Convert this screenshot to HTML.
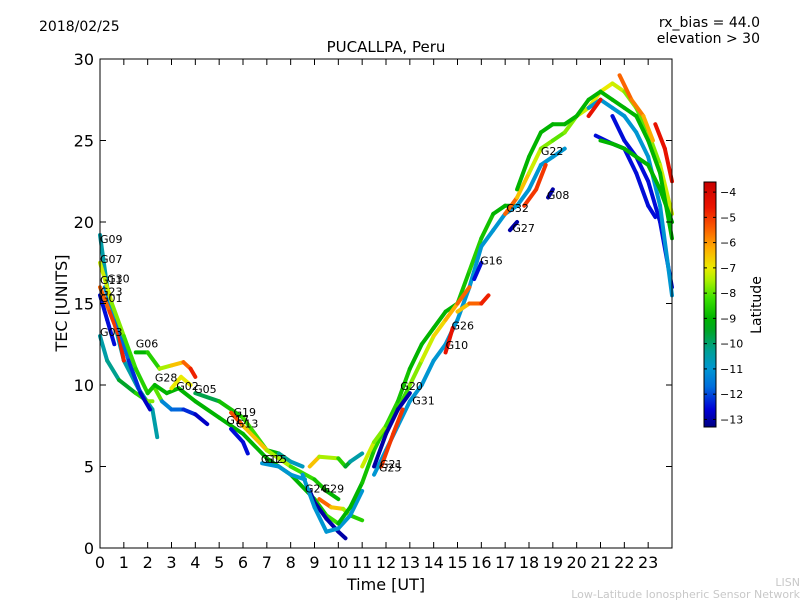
<!DOCTYPE html>
<html><head><meta charset="utf-8"><style>
body{margin:0;background:#fff;}
svg{display:block;font-family:"DejaVu Sans","Liberation Sans",sans-serif;}
</style></head><body>
<svg id="chart" width="800" height="600">
<rect width="800" height="600" fill="#fff"/>
<text x="39" y="31" font-size="14">2018/02/25</text>
<text x="760" y="27" font-size="14" text-anchor="end">rx_bias = 44.0</text>
<text x="760" y="43" font-size="14" text-anchor="end">elevation &gt; 30</text>
<text x="386" y="52" font-size="15" text-anchor="middle">PUCALLPA, Peru</text>
<text x="386" y="590" font-size="16" text-anchor="middle">Time [UT]</text>
<text transform="translate(67,303) rotate(-90)" font-size="16" text-anchor="middle">TEC [UNITS]</text>
<text x="800" y="586" font-size="11" fill="#c8c8c8" text-anchor="end">LISN</text>
<text x="800" y="598" font-size="11" fill="#c8c8c8" text-anchor="end">Low-Latitude Ionospheric Sensor Network</text>
<g id="tracks"></g>
<g id="labels"></g>
<g id="axes"></g>
<g id="cbar"></g>
</svg>
<script>
const xTicks=[0,1,2,3,4,5,6,7,8,9,10,11,12,13,14,15,16,17,18,19,20,21,22,23];
const yTicks=[0,5,10,15,20,25,30];
const cbTicks=[-4,-5,-6,-7,-8,-9,-10,-11,-12,-13];
const trackNames=["A","B","C","D","F","G","H1","H2","I","J","K","L","M","N","O","P","Q","R","S","T","U","V","W1","W2","X","Y","Z","AA","AB","AC","AD1","AD2","AD3","AE","AF","AG","AH"];
const trackTimes=[
[0,0.4,1,1.6,2.2,2.4],
[0,0.3,0.8,1.5,2,2.2],
[0,0.3,0.6],
[0,0.4,0.8,1],
[0.2,0.7,1.2,1.7,2.1],
[1.5,2,2.5,3,3.5,3.8,4],
[2.3,2.6,3,3.5,4,4.5],
[0,0.5,1,1.5,2,2.3,2.8,3.3,4,5,6,7,8,9,9.5,10],
[3,3.4,3.8],
[4,5,6,7,7.5,8,8.5],
[5.5,6,7,8,9,9.5,10],
[5.5,6,6.2],
[6.8,7.5,8,8.6],
[8.8,9,9.5,10,10.3],
[9.2,9.7,10.2,10.5,11],
[8.5,9,9.5,10,10.5,11],
[8.8,9.2,10,10.3,10.5,11],
[10,10.5,11,11.5,12,12.5,13,13.5,14,14.5,15,15.5,16,16.5,17,17.5],
[11.5,12,12.5,13,13.5,14,14.5,15,15.5,16,16.5,17,17.5,18,18.5,19,19.5],
[11,11.5,12,12.5,13,13.5,14,14.5,15,15.5],
[11.5,12,12.5,13],
[11.8,12.3,12.7],
[14.5,14.8],
[15,15.5,16,16.3],
[15.7,16],
[17,17.5,18,18.5,19,19.5,20,20.5,21,21.5,22,22.5,23,23.5,24],
[17.5,18,18.5,19,19.5,20,20.5,21,21.5,22,22.5,23,23.5,24],
[17.2,17.5],
[17.8,18.3,18.7],
[18.8,19],
[20.8,21.5,22,22.5,23,23.3],
[21.5,22,22.5,23,23.5,24],
[20.5,21,21.5,22,22.5,23,23.5,24],
[21,21.5,22,22.5,23,23.5,24],
[21.8,22.3,22.8,23.2],
[23.3,23.7,24],
[20.5,21]];
const trackTec=[
[19.2,15,11.5,9.8,8.5,6.8],
[13,11.5,10.3,9.5,9,9],
[15.5,14,12.5],
[16,14.5,13,11.5],
[16,14,11.5,9.5,8.5],
[12,12,11,11.2,11.4,11,10.5],
[9.8,9,8.5,8.5,8.2,7.6],
[17.5,15,13,11,9.5,10,9.5,9.8,9,8,7,5.5,4.5,3,2,1.5],
[9.8,10.5,10],
[9.5,9,8,6,5.8,5.3,5],
[8.3,7.5,6,5,4.2,3.5,3],
[7.3,6.5,5.8],
[5.2,5,4.5,4.2],
[3.5,2.8,1.8,1,0.6],
[3,2.5,2.4,2,1.7],
[4.5,2.5,1,1.2,2,3.5],
[5,5.6,5.5,5,5.3,5.8],
[1.5,2.5,4,6,7.5,9,11,12.5,13.5,14.5,15,17,19,20.5,21,21],
[4.5,6,7.5,9,10,11.5,12.5,14,16,18.5,19.5,20.5,21,22,23.5,24,24.5],
[5,6.5,7.5,8.5,10,11.5,13,14,15,16],
[5,7,8.5,9.5],
[5,7,8.5],
[12,13.5],
[14.5,15,15,15.5],
[16.5,17.5],
[20.5,21.5,23,24.5,25,25.5,26.5,27,28,28.5,28,27,25.5,23.5,20.5],
[22,24,25.5,26,26,26.5,27.5,28,27.5,27,26.5,25,23,19],
[19.5,20],
[21,22,23.5],
[21.5,22],
[25.3,24.8,24.5,23,21,20.3],
[26.5,25,24,22.5,20,16],
[27,27.5,27,26.5,25.5,24,21,15.5],
[25,24.8,24.5,24,23.5,22,20],
[29,27.5,26.5,25],
[26,24.5,22.5],
[26.5,27.5]];
const trackLat=[
[-10.5,-10.5,-10.5,-10.5,-10.5,-10.5],
[-10.5,-10.5,-10,-9,-8,-7.5],
[-12.5,-12.5,-12.5],
[-6,-5,-5,-4.5],
[-11,-11.5,-12,-12.5,-13],
[-9,-9,-8,-7,-6,-5,-4.5],
[-5,-11,-11.5,-12,-12.5,-13],
[-7,-7.5,-8,-8.5,-8.5,-9,-9,-9,-9,-9,-9,-9,-9,-9,-8.5,-8],
[-7,-7,-7],
[-10.5,-9,-8.5,-8,-10,-10.5,-11],
[-4.5,-6,-7,-8,-8.5,-9,-9],
[-12.5,-12.5,-12.5],
[-11,-11,-11,-11],
[-13,-13,-13,-13,-13],
[-5,-6,-7,-8,-9],
[-11,-11,-11,-11,-11,-11],
[-6,-7,-8,-9,-10,-11],
[-9,-9,-9,-8.5,-8.5,-8.5,-9,-9,-9,-9,-9,-8.5,-8.5,-9,-9,-9],
[-11,-11,-11,-11,-11,-11,-11,-11,-11,-11,-11,-11,-11,-11,-11,-11,-11],
[-7,-7.5,-8,-8.5,-8,-7.5,-7,-6.5,-6,-5],
[-13,-13,-13,-13],
[-5,-5,-5],
[-4.5,-4.5],
[-7,-6,-5,-4.5],
[-12.5,-12.5],
[-5,-6,-7,-7.5,-8,-8,-7.5,-7,-7,-7,-7.5,-8,-8,-7.5,-7],
[-9,-9,-9,-9,-9,-9,-9,-9,-9,-9,-9,-9,-9,-9],
[-13,-13],
[-5,-5,-5],
[-13,-13],
[-12.5,-12.5,-12.5,-12.5,-12.5,-12.5],
[-12.5,-12.5,-12.5,-12.5,-12.5,-12.5],
[-11,-11,-11,-11,-11,-11,-11,-11],
[-9,-9,-9,-9,-9,-9,-9],
[-5.5,-5.5,-6,-6.5],
[-4.5,-4.5,-4.5],
[-4.5,-4.5]];
const labelNames=["G09","G07","G11","G30","G23","G01","G03","G06","G28","G02","G05","G19","G17","G13","G12","G15","G24","G29","G21","G25","G20","G31","G10","G26","G16","G27","G32","G08","G22"];
const labelTimes=[0,0,0,0.3,0,0,0,1.5,2.3,3.2,3.95,5.6,5.3,5.7,6.75,6.9,8.6,9.3,11.75,11.7,12.6,13.1,14.5,14.75,15.95,17.3,17.05,18.75,18.5];
const labelTec=[18.7,17.5,16.2,16.3,15.5,15.1,13,12.3,10.2,9.7,9.5,8.1,7.6,7.4,5.2,5.2,3.4,3.4,4.9,4.7,9.7,8.8,12.2,13.4,17.4,19.4,20.6,21.4,24.1];

const X0=100,X1=672,Y0=548,Y1=59;
const xS=t=>X0+t*(X1-X0)/24;
const yS=v=>Y0-v*(Y0-Y1)/30;
const NS="http://www.w3.org/2000/svg";
function mk(tag,attrs,parent){const e=document.createElementNS(NS,tag);for(const k in attrs)e.setAttribute(k,attrs[k]);parent.appendChild(e);return e;}
const LMIN=-13.3,LMAX=-3.6;
const CSTOPS=[[-13.3,[0,0,130]],[-12.6,[0,0,215]],[-11.7,[0,110,220]],[-11,[0,150,210]],[-10.3,[0,160,150]],[-9.5,[0,165,40]],[-9,[0,180,0]],[-8.2,[60,225,0]],[-7.5,[170,240,0]],[-7,[235,235,0]],[-6.2,[255,170,0]],[-5.4,[250,90,0]],[-4.6,[235,20,0]],[-3.6,[200,0,0]]];
function latColor(l){
 if(l<=CSTOPS[0][0])return `rgb(${CSTOPS[0][1]})`;
 for(let k=1;k<CSTOPS.length;k++){if(l<=CSTOPS[k][0]){const a=CSTOPS[k-1],b=CSTOPS[k],f=(l-a[0])/(b[0]-a[0]);
  return `rgb(${a[1].map((c,i)=>Math.round(c+(b[1][i]-c)*f)).join(',')})`;}}
 return `rgb(${CSTOPS[CSTOPS.length-1][1]})`;}
const tg=document.getElementById('tracks');
trackNames.forEach((n,i)=>{
 const g=mk('g',{},tg);
 
 
 const T=trackTimes[i],V=trackTec[i],L=trackLat[i];
 for(let j=0;j<T.length-1;j++){
  const ln=mk('line',{x1:xS(T[j]),y1:yS(V[j]),x2:xS(T[j+1]),y2:yS(V[j+1]),stroke:latColor((L[j]+L[j+1])/2),'stroke-width':4,'stroke-linecap':'round'},g);
  
  
 }
});
const lg=document.getElementById('labels');
labelNames.forEach((n,i)=>{
 const t=mk('text',{x:xS(labelTimes[i]),y:yS(labelTec[i]),'font-size':11},lg);
 t.textContent=n;
 
 
});
const ax=document.getElementById('axes');
mk('rect',{x:X0,y:Y1,width:X1-X0,height:Y0-Y1,fill:'none',stroke:'#000','stroke-width':1},ax);
xTicks.forEach(t=>{
 const x=xS(t);
 mk('line',{x1:x,y1:Y0,x2:x,y2:Y0-6,stroke:'#000'},ax);
 mk('line',{x1:x,y1:Y1,x2:x,y2:Y1+6,stroke:'#000'},ax);
 const tx=mk('text',{x:x,y:Y0+20,'font-size':16,'text-anchor':'middle'},ax);
 tx.textContent=t;
 
 
});
yTicks.forEach(v=>{
 const y=yS(v);
 mk('line',{x1:X0,y1:y,x2:X0+6,y2:y,stroke:'#000'},ax);
 mk('line',{x1:X1,y1:y,x2:X1-6,y2:y,stroke:'#000'},ax);
 const tx=mk('text',{x:X0-6,y:y+6,'font-size':16,'text-anchor':'end'},ax);
 tx.textContent=v;
 
 
});
const cb=document.getElementById('cbar');
const CX=704,CW=12,CT=182,CB=427;
const defs=mk('defs',{},cb);
const grad=mk('linearGradient',{id:'jetg',x1:0,y1:1,x2:0,y2:0},defs);
CSTOPS.forEach(s=>mk('stop',{offset:(s[0]-LMIN)/(LMAX-LMIN),'stop-color':`rgb(${s[1]})`},grad));
mk('rect',{x:CX,y:CT,width:CW,height:CB-CT,fill:'url(#jetg)',stroke:'#000','stroke-width':1},cb);
const cy=l=>CB-(l-LMIN)/(LMAX-LMIN)*(CB-CT);
cbTicks.forEach(l=>{
 const y=cy(l);
 mk('line',{x1:CX,y1:y,x2:CX+3,y2:y,stroke:'#000'},cb);
 mk('line',{x1:CX+CW,y1:y,x2:CX+CW-3,y2:y,stroke:'#000'},cb);
 const tx=mk('text',{x:CX+CW+4,y:y+4,'font-size':11},cb);
 tx.textContent='\u2212'+Math.abs(l);
 
 
});
const ct=mk('text',{transform:'translate(761,305) rotate(-90)','font-size':14,'text-anchor':'middle'},cb);
ct.textContent='Latitude';


</script>
</body></html>
